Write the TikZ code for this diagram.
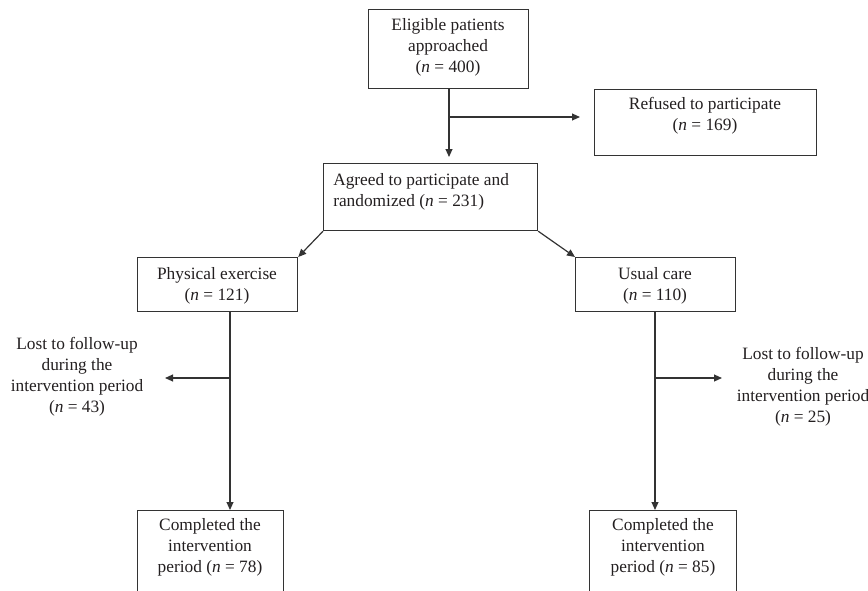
\documentclass[tikz,border=0pt]{standalone}
\usepackage{fontspec}
\setmainfont{Liberation Serif}
\usetikzlibrary{arrows.meta}
\definecolor{ink}{HTML}{231F20}
\definecolor{edge}{HTML}{333333}
\tikzset{
  box/.style={draw=edge, line width=0.9pt, rectangle, inner sep=0pt, anchor=north west},
  txt/.style={text=ink, inner sep=0pt, align=center, font=\fontsize{13}{15.8}\selectfont},
  conn/.style={draw=edge, line width=0.9pt},
  arr/.style={conn, -{Triangle[length=6pt,width=5.2pt]}},
}
\begin{document}
\begin{tikzpicture}[x=0.75pt,y=-0.75pt]
\useasboundingbox (0,0) rectangle (868,590);
\clip (0,0) rectangle (868,590);
% boxes
\node[box, minimum width=160*0.75pt, minimum height=79*0.75pt] (E) at (368,9) {};
\node[box, minimum width=222*0.75pt, minimum height=66*0.75pt] (R) at (594,89) {};
\node[box, minimum width=214*0.75pt, minimum height=67*0.75pt] (A) at (323,163) {};
\node[box, minimum width=160*0.75pt, minimum height=54*0.75pt] (P) at (137,257) {};
\node[box, minimum width=160*0.75pt, minimum height=54*0.75pt] (U) at (575,257) {};
\node[box, minimum width=146*0.75pt, minimum height=100*0.75pt] (CL) at (137,510) {};
\node[box, minimum width=147*0.75pt, minimum height=100*0.75pt] (CR) at (589,510) {};
% texts
\node[txt] (Et) at (448,47) {Eligible patients\\approached\\(\textit{n} = 400)};
\node[txt] (Rt) at (705,116) {Refused to participate\\(\textit{n} = 169)};
\node[txt, align=left, anchor=west] (At) at (333,191.5) {Agreed to participate and\\randomized (\textit{n} = 231)};
\node[txt] (Pt) at (217,285.5) {Physical exercise\\(\textit{n} = 121)};
\node[txt] (Ut) at (655,285.5) {Usual care\\(\textit{n} = 110)};
\node[txt] (Lt) at (77,376.5) {Lost to follow-up\\during the\\intervention period\\(\textit{n} = 43)};
\node[txt] (Rl) at (803,387) {Lost to follow-up\\during the\\intervention period\\(\textit{n} = 25)};
\node[txt] (CLt) at (210,547.5) {Completed the\\intervention\\period (\textit{n} = 78)};
\node[txt] (CRt) at (663,547.5) {Completed the\\intervention\\period (\textit{n} = 85)};
% junction coordinates
\coordinate (e0) at (449,88);
\coordinate (e1) at (449,117);
\coordinate (a0) at (449,157);
\coordinate (r0) at (580,117);
\coordinate (p0) at (230,311);
\coordinate (p1) at (230,378);
\coordinate (p2) at (165,378);
\coordinate (u0) at (655,311);
\coordinate (u1) at (655,378);
\coordinate (u2) at (722,378);
% connectors
\draw[arr] (e0) -- (a0);
\draw[arr] (e1) -- (r0);
\draw[arr] (A.south west) -- (P.north east);
\draw[arr] (A.south east) -- (U.north west);
\draw[arr] (p0) -- (p0 |- CL.north);
\draw[arr] (p1) -- (p2);
\draw[arr] (u0) -- (u0 |- CR.north);
\draw[arr] (u1) -- (u2);
\end{tikzpicture}
\end{document}
